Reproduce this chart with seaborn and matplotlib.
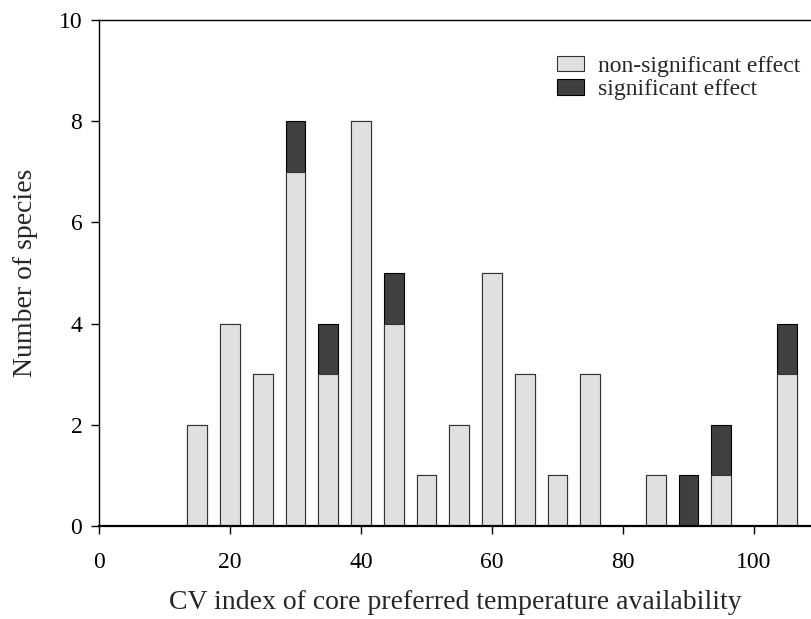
import matplotlib
matplotlib.use("Agg")
import matplotlib.pyplot as plt
from matplotlib.patches import Patch
import seaborn as sns
import pandas as pd

# Data
cv_index = [15, 20, 25, 30, 35, 40, 45, 50, 55, 60, 65, 70, 75, 85, 90, 95, 105]
non_significant = [2, 4, 3, 7, 3, 8, 4, 1, 2, 5, 3, 1, 3, 1, 0, 1, 3]
significant = [0, 0, 0, 1, 1, 0, 1, 0, 0, 0, 0, 0, 0, 0, 1, 1, 1]
legend_labels = ["non-significant effect", "significant effect"]
x_label = "CV index of core preferred temperature availability"
y_label = "Number of species"
x_ticks = [0, 20, 40, 60, 80, 100]
y_ticks = [0, 2, 4, 6, 8, 10]

light = "#e0e0e0"
dark = "#404040"

df = pd.DataFrame({"cv": cv_index, "ns": non_significant, "sig": significant})
df["total"] = df["ns"] + df["sig"]
df_ns = df[df["ns"] > 0]

sns.set_style("ticks")
plt.rcParams["font.family"] = ["Liberation Serif", "DejaVu Serif"]

fig = plt.figure(figsize=(8.11, 6.19), dpi=100)
ax = fig.add_axes([99 / 811, 93 / 619, 712 / 811, (526 - 20) / 619])

sns.barplot(data=df, x="cv", y="total", native_scale=True, width=0.6,
            color=dark, saturation=1, edgecolor="black", linewidth=0.8, ax=ax)
sns.barplot(data=df_ns, x="cv", y="ns", native_scale=True, width=0.6,
            color=light, saturation=1, edgecolor="#333333", linewidth=0.8, ax=ax)

ax.set_xlim(0, 712 / 6.55)
ax.set_ylim(0, 10)
ax.set_xticks(x_ticks)
ax.set_yticks(y_ticks)
ax.set_xlabel(x_label, fontsize=20, labelpad=12)
ax.set_ylabel(y_label, fontsize=20, labelpad=15)
ax.tick_params(axis="both", direction="out", length=6, width=1, labelsize=17,
               colors="black")
ax.tick_params(axis="x", pad=13)
ax.tick_params(axis="y", pad=6)
for s in ["left", "bottom", "top"]:
    ax.spines[s].set_color("black")
    ax.spines[s].set_linewidth(1)
ax.spines["bottom"].set_linewidth(1.6)
ax.spines["right"].set_visible(False)

handles = [Patch(facecolor=light, edgecolor="#333333", linewidth=0.8),
           Patch(facecolor=dark, edgecolor="black", linewidth=0.8)]
ax.legend(handles, legend_labels, loc="upper left",
          bbox_to_anchor=((557 - 99) / 712, (526 - 56) / 506),
          frameon=False, fontsize=17, handlelength=1.15, handleheight=0.62,
          handletextpad=0.6, labelspacing=0.1, borderaxespad=0, borderpad=0)

fig.savefig("out.png", dpi=100)
